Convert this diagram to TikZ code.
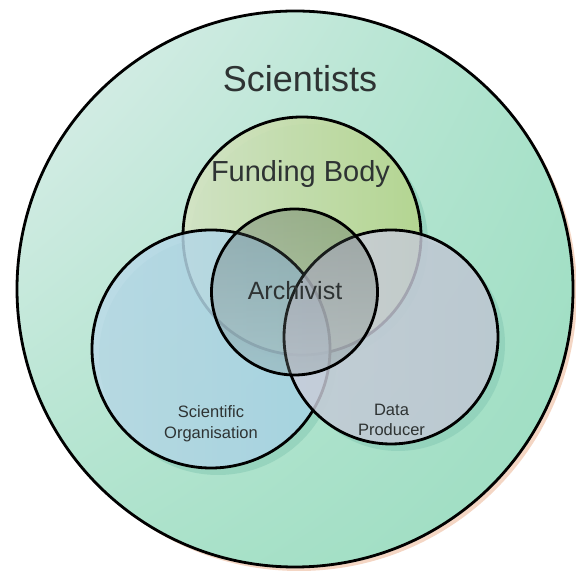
\documentclass[tikz,border=0pt]{standalone}
\usepackage{fontspec}
\setmainfont{Liberation Sans}
\usetikzlibrary{shadings}
\definecolor{sciUL}{HTML}{DFEFEC}
\definecolor{sciUR}{HTML}{A9E2CA}
\definecolor{sciLL}{HTML}{AEE3CC}
\definecolor{sciLR}{HTML}{9CDDC1}
\definecolor{peach}{HTML}{F4D6C4}
\definecolor{shadowT}{HTML}{86C9B4}
\definecolor{fundL}{HTML}{D4E3C4}
\definecolor{fundR}{HTML}{B6D68E}
\definecolor{orgL}{HTML}{BCDAE8}
\definecolor{orgR}{HTML}{A8D3E6}
\definecolor{prodL}{HTML}{CBCDDA}
\definecolor{prodR}{HTML}{C3C7D5}
\definecolor{archT}{HTML}{3E4A44}
\definecolor{archB}{HTML}{8A9898}
\definecolor{ink}{HTML}{2E3333}
\begin{document}
\begin{tikzpicture}[x=1pt,y=1pt,
  ring/.style={draw=black, line width=2.8pt},
  dropshadow/.style={fill=shadowT, fill opacity=0.55},
  caption/.style={text=ink, align=center, inner sep=0pt}]
\useasboundingbox (0,0) rectangle (575,577);

% centres of the sets
\coordinate (sci) at (295,288);
\coordinate (fund) at (302,341);
\coordinate (org) at (211,228);
\coordinate (prod) at (391,240);
\coordinate (arch) at (294.5,285);

% outer set: Scientists
\fill[peach] ([shift={(4,-4)}]sci) circle (278);
\shade[upper left=sciUL, upper right=sciUR, lower left=sciLL, lower right=sciLR] (sci) circle (278);
\draw[ring] (sci) circle (278);

% soft shadows of the inner sets
\fill[dropshadow] ([shift={(7,-7)}]fund) circle (119);
\fill[dropshadow] ([shift={(7,-7)}]org) circle (119);
\fill[dropshadow] ([shift={(7,-7)}]prod) circle (107);

% Funding Body
\shade[left color=fundL, right color=fundR, fill opacity=0.92] (fund) circle (119);
\draw[ring] (fund) circle (119);

% Scientific Organisation
\shade[left color=orgL, right color=orgR, fill opacity=0.84] (org) circle (119);
\draw[ring] (org) circle (119);

% Data Producer
\shade[left color=prodL, right color=prodR, fill opacity=0.82] (prod) circle (107);
\draw[ring] (prod) circle (107);

% Archivist
\shade[top color=archT, bottom color=archB, fill opacity=0.3] (arch) circle (83);
\draw[ring] (arch) circle (83);

% labels
\node[caption, font=\fontsize{36}{40}\selectfont] (tsci) at (300,498) {Scientists};
\node[caption, font=\fontsize{29}{33}\selectfont] (tfund) at (300.5,403) {Funding Body};
\node[caption, font=\fontsize{25}{29}\selectfont] (tarch) at (295,286) {Archivist};
\node[caption, font=\fontsize{16.5}{21}\selectfont] (torg) at (211,153) {Scientific\\Organisation};
\node[caption, font=\fontsize{16.5}{20}\selectfont] (tprod) at (391.5,157) {Data\\Producer};
\end{tikzpicture}
\end{document}
